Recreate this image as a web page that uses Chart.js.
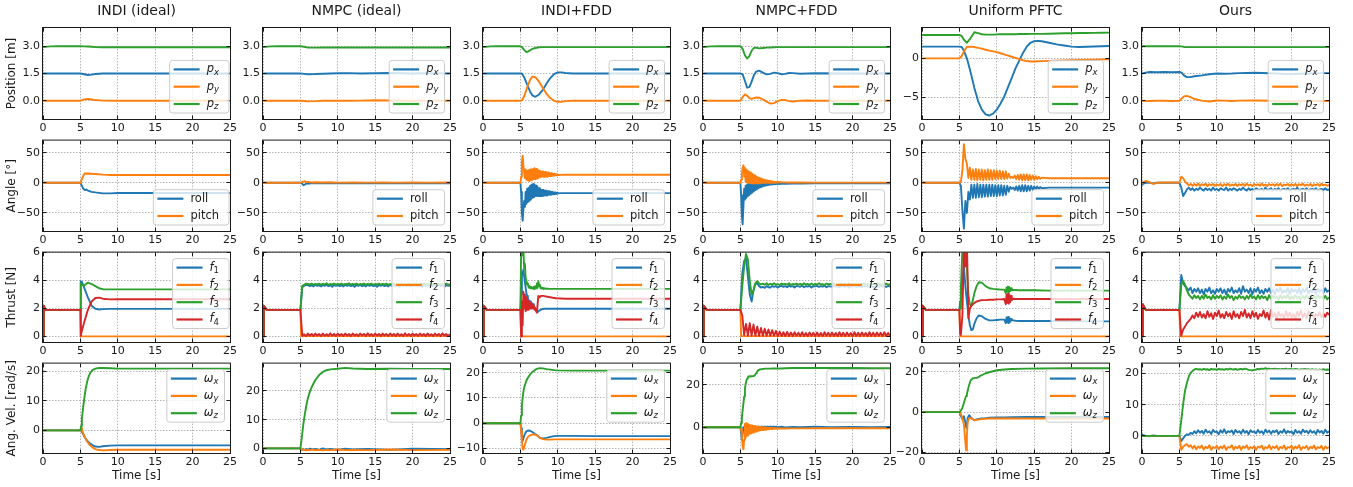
<!DOCTYPE html>
<html>
<head>
<meta charset="utf-8">
<title>Controller comparison after rotor failure</title>
<script src="https://cdn.jsdelivr.net/npm/chart.js@4.4.1/dist/chart.umd.min.js"></script>
<style>
  html, body { margin: 0; padding: 0; background: #ffffff; }
  #fig { position: relative; width: 1353px; height: 487px; overflow: hidden; background: #ffffff; }
  #fig canvas { position: absolute; }
</style>
</head>
<body>
<div id="fig"></div>
<script>
// ================= text =================
const methods = ['INDI (ideal)', 'NMPC (ideal)', 'INDI+FDD', 'NMPC+FDD', 'Uniform PFTC', 'Ours'];
const rowTitles = ['Position [m]', 'Angle [°]', 'Thrust [N]', 'Ang. Vel. [rad/s]'];
const xTitle = 'Time [s]';
const posNames = ['p_x', 'p_y', 'p_z'];
const angNames = ['roll', 'pitch'];
const thrNames = ['f_1', 'f_2', 'f_3', 'f_4'];
const avNames = ['ω_x', 'ω_y', 'ω_z'];

// ================= ticks / ranges =================
const xTicks = [0, 5, 10, 15, 20, 25];
const posTicks = [0, 1.5, 3.0];
const posTickLabels = ['0.0', '1.5', '3.0'];
const posRange = [-1, 4];
const ufPosTicks = [-5, 0];
const ufPosTickLabels = ['−5', '0'];
const ufPosRange = [-7.8, 3.9];
const angTicks = [-50, 0, 50];
const angTickLabels = ['−50', '0', '50'];
const angRange = [-80, 70];
const thrTicks = [0, 2, 4, 6];
const thrTickLabels = ['0', '2', '4', '6'];
const thrRange = [-0.4, 6];
const avTicksA = [0, 10, 20];
const avTickLabelsA = ['0', '10', '20'];
const avTicksC = [-10, 0, 10, 20];
const avTickLabelsC = ['−10', '0', '10', '20'];
const avTicksD = [0, 20];
const avTickLabelsD = ['0', '20'];
const avTicksE = [-20, 0, 20];
const avTickLabelsE = ['−20', '0', '20'];
const avRangeII = [-7.7, 22.7];
const avRangeNI = [-1.6, 29.5];
const avRangeIF = [-11.8, 23.6];
const avRangeNF = [-12.2, 30.1];
const avRangeUF = [-20.3, 24.1];
const avRangeOU = [-5.5, 23.2];

// ================= shared time grids [s] =================
const tN = [0, 0.1, 0.5, 1, 1.5, 2, 3, 4, 5,
  5.25, 5.5, 5.75, 6, 6.25, 6.5, 6.75, 7, 7.25, 7.5,
  7.75, 8, 8.25, 8.5, 8.75, 9, 9.25, 9.5, 9.75, 10,
  10.25, 10.5, 10.75, 11, 11.25, 11.5, 11.75, 12, 12.25, 12.5,
  12.75, 13, 13.25, 13.5, 13.75, 14, 14.25, 14.5, 14.75, 15,
  15.25, 15.5, 15.75, 16, 16.25, 16.5, 16.75, 17, 17.25, 17.5,
  17.75, 18, 18.25, 18.5, 18.75, 19, 19.25, 19.5, 19.75, 20,
  20.25, 20.5, 20.75, 21, 21.25, 21.5, 21.75, 22, 22.25, 22.5,
  22.75, 23, 23.25, 23.5, 23.75, 24, 24.25, 24.5, 24.75, 25];
const tB = [0, 0.1, 0.5,
  5.0, 5.1, 5.2, 5.3, 5.4, 5.5, 5.6, 5.7, 5.8, 5.9,
  6.0, 6.1, 6.2, 6.3, 6.4, 6.5, 6.6, 6.7, 6.8, 6.9,
  7.0, 7.1, 7.2, 7.3, 7.4, 7.5, 7.6, 7.7, 7.8, 7.9,
  8.0, 8.1, 8.2, 8.3, 8.4, 8.5, 8.6, 8.7, 8.8, 8.9,
  9.0, 9.1, 9.2, 9.3, 9.4, 9.5, 9.6, 9.7, 9.8, 9.9,
  10.0,
  10.5, 11, 12, 13, 15, 17, 20, 22.5, 25];
const tB2 = [0,
  5.0, 5.2, 5.4, 5.6, 5.8, 6.0, 6.2, 6.4, 6.6, 6.8,
  7.0, 7.2, 7.4, 7.6, 7.8, 8.0, 8.2, 8.4, 8.6, 8.8,
  9.0, 9.2, 9.4, 9.6, 9.8, 10.0, 10.2, 10.4, 10.6, 10.8,
  11.0, 11.2, 11.4, 11.6, 11.8, 12.0, 12.2, 12.4, 12.6, 12.8,
  13.0, 13.2, 13.4, 13.6, 13.8, 14.0, 14.2, 14.4, 14.6, 14.8,
  15.0, 15.2, 15.4, 15.6, 15.8, 16.0,
  17, 18, 20, 22, 25];
const tF2 = [0, 0.1, 0.5, 5, 5.1, 25];

// ================= INDI (ideal) =================
const ii_pos_t = [0, 1, 2, 4, 5, 5.5, 6, 6.5, 7, 8, 10, 15, 20, 25];
const ii_px = [1.5, 1.5, 1.5, 1.5, 1.5, 1.46, 1.42, 1.44, 1.47, 1.5, 1.5, 1.5, 1.5, 1.5];
const ii_py = [0, 0, 0, 0, 0, 0.08, 0.1, 0.07, 0.04, 0.01, 0, 0, 0, 0];
const ii_pz = [2.95, 2.99, 3.0, 3.0, 3.0, 2.99, 2.98, 2.97, 2.95, 2.94, 2.94, 2.94, 2.94, 2.94];
const ii_ang_t = [0, 5, 5.2, 5.4, 5.6, 5.8, 6, 6.5, 7, 8, 9, 10, 15, 20, 25];
const ii_roll = [0, 0, -5, -10, -12, -11, -13, -15, -16, -17.5, -17.5, -17, -17, -17, -17];
const ii_pitch = [0, 0, 6, 12, 16, 15, 15.5, 15, 14.5, 13.5, 13, 13, 13, 13, 13];
const ii_thr_t = [0, 0.1, 0.3, 1, 5, 5.05, 5.2, 5.5, 6, 6.5, 7, 7.5, 8, 9, 10, 15, 20, 25];
const ii_f1 = [0, 2.2, 1.9, 1.9, 1.9, 3.95, 3.9, 3.5, 2.8, 2.2, 1.98, 1.93, 1.95, 1.97, 1.97, 1.97, 1.97, 1.97];
const ii_f2 = [0, 2.2, 1.9, 1.9, 1.9, 0, 0, 0, 0, 0, 0, 0, 0, 0, 0, 0, 0, 0];
const ii_f3 = [0, 2.2, 1.9, 1.9, 1.9, 3.8, 3.7, 3.65, 3.85, 3.75, 3.6, 3.45, 3.38, 3.37, 3.37, 3.37, 3.37, 3.37];
const ii_f4 = [0, 2.2, 1.9, 1.9, 1.9, 0.05, 0.4, 1.0, 1.9, 2.5, 2.75, 2.78, 2.7, 2.65, 2.66, 2.66, 2.66, 2.66];
const ii_av_t = [0, 5, 5.1, 5.2, 5.35, 5.5, 5.7, 5.9, 6.1, 6.3, 6.6, 7, 7.5, 8, 9, 10, 15, 20, 25];
const ii_wx = [0, 0, 0.2, -0.5, -1.2, -2, -2.8, -3.5, -4.0, -4.5, -5.0, -5.5, -5.6, -5.4, -5.2, -5.1, -5.1, -5.1, -5.1];
const ii_wy = [0, 0, 0.8, 0.3, -0.8, -1.8, -2.9, -3.8, -4.5, -5.1, -5.8, -6.4, -6.7, -6.8, -6.7, -6.6, -6.6, -6.6, -6.6];
const ii_wz = [0, 0, 1.5, 4, 7.5, 10.5, 14, 16.5, 18.3, 19.5, 20.5, 21.0, 21.2, 21.2, 21.1, 21.0, 21.0, 21.0, 21.0];

// ================= NMPC (ideal) =================
const ni_pos_t = [0, 1, 2, 4, 5, 5.5, 6, 7, 8, 10, 11.5, 13, 15, 17, 20, 22, 25];
const ni_px = [1.5, 1.5, 1.5, 1.5, 1.5, 1.48, 1.46, 1.47, 1.49, 1.51, 1.52, 1.5, 1.51, 1.53, 1.5, 1.51, 1.5];
const ni_py = [0, 0, 0, 0, 0, -0.01, -0.03, -0.02, 0, 0.01, 0, 0.01, 0.03, 0.02, 0, 0.01, 0];
const ni_pz = [2.95, 2.99, 3.0, 3.0, 3.0, 2.97, 2.92, 2.92, 2.93, 2.93, 2.93, 2.93, 2.93, 2.93, 2.93, 2.93, 2.93];
const ni_ang_t = [0, 5, 5.2, 5.4, 5.6, 5.8, 6, 6.5, 7, 8, 9, 10, 12, 14, 16, 18, 20, 22, 25];
const ni_roll = [0, 0, -1, -4, -3, -1, -1.5, -0.5, -1, -0.5, -1, -0.8, -1, -0.8, -1, -0.8, -1, -0.8, -1];
const ni_pitch = [0, 0, 1, 2, 2.5, 1, 1.5, 0.5, 1, 0.5, 0.8, 0.3, 0.6, 0.3, 0.6, 0.3, 0.6, 0.3, 0.5];
const ni_f1 = [0, 2.2, 1.9, 1.9, 1.9, 1.9, 1.9, 1.9, 1.9,
  3.55, 3.62, 3.7, 3.68, 3.6, 3.66, 3.58, 3.7, 3.62, 3.66,
  3.58, 3.68, 3.62, 3.7, 3.6, 3.66, 3.56, 3.68, 3.62, 3.7,
  3.6, 3.66, 3.58, 3.7, 3.62, 3.68, 3.6, 3.66, 3.56, 3.68,
  3.62, 3.7, 3.6, 3.66, 3.58, 3.7, 3.62, 3.68, 3.6, 3.66,
  3.56, 3.68, 3.62, 3.7, 3.6, 3.66, 3.58, 3.7, 3.62, 3.68,
  3.6, 3.66, 3.56, 3.68, 3.62, 3.7, 3.6, 3.66, 3.58, 3.7,
  3.62, 3.68, 3.6, 3.66, 3.56, 3.68, 3.62, 3.7, 3.6, 3.66,
  3.58, 3.7, 3.62, 3.68, 3.6, 3.66, 3.56, 3.68, 3.62, 3.64];
const ni_f2 = [0, 2.2, 1.9, 1.9, 0.02, 0.02];
const ni_f3 = [0, 2.2, 1.9, 1.9, 1.9, 1.9, 1.9, 1.9, 1.9,
  3.6, 3.7, 3.78, 3.75, 3.72, 3.78, 3.7, 3.76, 3.72, 3.78,
  3.7, 3.76, 3.72, 3.8, 3.7, 3.75, 3.72, 3.78, 3.7, 3.76,
  3.72, 3.78, 3.7, 3.76, 3.74, 3.8, 3.7, 3.76, 3.72, 3.78,
  3.7, 3.75, 3.72, 3.78, 3.7, 3.76, 3.72, 3.78, 3.7, 3.75,
  3.72, 3.78, 3.7, 3.76, 3.72, 3.78, 3.7, 3.75, 3.72, 3.78,
  3.7, 3.76, 3.72, 3.78, 3.7, 3.75, 3.72, 3.78, 3.7, 3.76,
  3.72, 3.78, 3.7, 3.75, 3.72, 3.78, 3.7, 3.76, 3.72, 3.78,
  3.7, 3.75, 3.72, 3.78, 3.7, 3.76, 3.72, 3.78, 3.7, 3.74];
const ni_f4 = [0, 2.2, 1.9, 1.9, 1.9, 1.9, 1.9, 1.9, 1.9,
  0.05, 0.15, 0.02, 0.2, 0.05, 0.18, 0.03, 0.2, 0.06, 0.17,
  0.02, 0.2, 0.05, 0.16, 0.03, 0.22, 0.05, 0.18, 0.02, 0.2,
  0.06, 0.17, 0.03, 0.2, 0.05, 0.18, 0.02, 0.21, 0.05, 0.16,
  0.03, 0.2, 0.06, 0.18, 0.02, 0.22, 0.05, 0.17, 0.03, 0.2,
  0.05, 0.18, 0.02, 0.2, 0.06, 0.17, 0.03, 0.21, 0.05, 0.18,
  0.02, 0.2, 0.05, 0.16, 0.03, 0.22, 0.05, 0.18, 0.02, 0.2,
  0.06, 0.17, 0.03, 0.2, 0.05, 0.18, 0.02, 0.21, 0.05, 0.16,
  0.03, 0.2, 0.06, 0.18, 0.02, 0.22, 0.05, 0.17, 0.03, 0.15];
const ni_av_t = [0, 5, 5.2, 5.4, 5.6, 5.8, 6, 6.3, 6.6, 7, 7.5, 8, 8.5, 9, 10, 11, 12, 14, 17, 20, 25];
const ni_wx = [0, 0, -0.5, -0.3, -0.6, -0.2, -0.5, -0.1, -0.4, -0.2, -0.5, 0, -0.4, -0.2, -0.5, -0.1, -0.4, -0.2, -0.5, -0.1, -0.3];
const ni_wy = [0, 0, -0.3, -0.6, -0.4, -0.7, -0.5, -0.6, -0.4, -0.6, -0.5, -0.7, -0.5, -0.6, -0.4, -0.6, -0.5, -0.6, -0.4, -0.6, -0.5];
const ni_wz = [0, 0, 4, 8.5, 12, 15, 17.5, 20, 21.8, 23.8, 25.5, 26.6, 27.2, 27.5, 27.7, 28.0, 27.8, 27.6, 27.7, 27.6, 27.6];

// ================= INDI+FDD =================
const if_pos_t = [0, 1, 2, 5, 5.2, 5.5, 5.8, 6, 6.3, 6.6, 7, 7.5, 8, 8.5, 9, 9.5, 10, 10.5, 11, 12, 15, 20, 25];
const if_px = [1.5, 1.5, 1.5, 1.5, 1.5, 1.3, 1.0, 0.8, 0.5, 0.3, 0.22, 0.35, 0.6, 0.95, 1.25, 1.47, 1.56, 1.56, 1.53, 1.5, 1.5, 1.5, 1.5];
const if_py = [0, 0, 0, 0, 0.02, 0.25, 0.6, 0.85, 1.15, 1.33, 1.3, 1.05, 0.7, 0.38, 0.15, 0.0, -0.06, -0.05, -0.02, 0, 0, 0, 0];
const if_pz = [2.95, 2.99, 3.0, 3.0, 2.95, 2.8, 2.68, 2.7, 2.78, 2.85, 2.9, 2.94, 2.95, 2.95, 2.95, 2.95, 2.95, 2.95, 2.95, 2.95, 2.95, 2.95, 2.95];
const if_roll = [0, 0, 0,
  0, -15, -50, -63, -45, -30, -40, -15, -35, -10,
  -32, -8, -30, -5, -28, -3, -25, -2, -24, -3,
  -22, -5, -22, -7, -22, -9, -22, -11, -22, -12,
  -22, -12, -21, -13, -21, -13, -21, -14, -20, -14,
  -20, -15, -19.5, -15, -19, -16, -19, -16, -18.5, -16.5,
  -17.5,
  -17.2, -17.2, -17.2, -17.2, -17.2, -17.2, -17.2, -17.2, -17.2];
const if_pitch = [0, 0, 0,
  0, 10, 35, 45, 30, 18, 8, 22, 5, 20,
  4, 21, 3, 22, 4, 22, 5, 23, 6, 24,
  6, 23, 7, 22, 8, 20, 9, 19, 10, 19,
  10, 18, 10, 18, 10, 17, 10, 17, 11, 16,
  11, 16, 11, 15, 12, 15, 12, 14.5, 12.5, 14,
  13,
  13.2, 13.3, 13.3, 13.3, 13.3, 13.3, 13.3, 13.3, 13.3];
const if_f1 = [0, 2.2, 1.9,
  1.9, 3.0, 4.6, 4.4, 4.8, 4.3, 3.9, 3.5, 3.1, 2.9,
  2.7, 2.6, 2.55, 2.5, 2.45, 2.4, 2.35, 2.3, 2.25, 2.1,
  2.0, 1.9, 1.8, 1.75, 1.8, 1.85, 1.88, 1.9, 1.92, 1.95,
  1.97, 1.98, 1.98, 1.98, 1.98, 1.98, 1.98, 1.98, 1.98, 1.98,
  1.98, 1.98, 1.98, 1.98, 1.98, 1.98, 1.98, 1.98, 1.98, 1.98,
  1.98,
  1.98, 1.98, 1.98, 1.98, 1.98, 1.98, 1.98, 1.98, 1.98];
const if_f2 = [0, 2.2, 1.9, 1.9, 0, 0];
const if_f3 = [0, 2.2, 1.9,
  1.9, 6.2, 6.5, 5.8, 6.2, 4.9, 5.2, 4.2, 4.0, 3.7,
  3.8, 3.5, 3.6, 3.45, 3.55, 3.45, 3.5, 3.4, 3.55, 3.4,
  3.6, 3.45, 3.8, 3.5, 3.95, 3.6, 3.7, 3.45, 3.5, 3.42,
  3.48, 3.4, 3.45, 3.4, 3.43, 3.4, 3.42, 3.4, 3.41, 3.4,
  3.4, 3.4, 3.4, 3.4, 3.4, 3.4, 3.4, 3.4, 3.4, 3.4,
  3.4,
  3.4, 3.4, 3.4, 3.4, 3.4, 3.4, 3.4, 3.4, 3.4];
const if_f4 = [0, 2.2, 1.9,
  1.9, 0, 2.5, 0.8, 3.2, 2.0, 3.0, 1.8, 2.8, 1.9,
  2.6, 1.9, 2.5, 2.0, 2.4, 2.0, 2.3, 2.0, 2.2, 1.9,
  2.0, 1.8, 1.7, 2.3, 2.9, 2.8, 2.85, 2.88, 2.9, 2.9,
  2.9, 2.9, 2.88, 2.87, 2.86, 2.85, 2.84, 2.83, 2.82, 2.81,
  2.8, 2.79, 2.78, 2.77, 2.76, 2.75, 2.74, 2.73, 2.73, 2.72,
  2.72,
  2.71, 2.7, 2.7, 2.7, 2.7, 2.7, 2.7, 2.7, 2.7];
const if_av_t = [0, 5, 5.1, 5.2, 5.3, 5.4, 5.5, 5.65, 5.8, 6, 6.3, 6.6, 7, 7.3, 7.6, 8, 8.5, 9, 9.5, 10, 12, 15, 20, 25];
const if_wx = [0, 0, -2, -5, -7, -6, -5, -4, -3.2, -2.9, -3, -3.5, -4.3, -5, -5.8, -6.0, -5.8, -5.4, -5.1, -5.0, -5.0, -5.1, -5.1, -5.1];
const if_wy = [0, 0, -3, -7, -10, -10.5, -9.5, -8, -6.5, -5.5, -4.8, -4.5, -4.5, -5, -5.8, -6.3, -6.5, -6.5, -6.4, -6.4, -6.4, -6.4, -6.4, -6.4];
const if_wz = [0, 0, 3, 7, 10, 12.5, 14, 15.5, 16.8, 18, 19.3, 20.3, 21.2, 21.6, 21.8, 21.7, 21.4, 21.2, 21.0, 20.9, 20.8, 20.8, 20.8, 20.8];

// ================= NMPC+FDD =================
const nf_pos_t = [0, 1, 2, 5, 5.3, 5.6, 5.9, 6.2, 6.5, 6.8, 7.1, 7.5, 8, 8.5, 9, 9.5, 10, 10.5, 11, 11.5, 12, 13, 14, 15, 20, 25];
const nf_px = [1.5, 1.5, 1.5, 1.5, 1.45, 1.1, 0.72, 0.75, 1.05, 1.4, 1.6, 1.66, 1.55, 1.45, 1.48, 1.55, 1.52, 1.46, 1.48, 1.53, 1.52, 1.49, 1.5, 1.51, 1.5, 1.5];
const nf_py = [0, 0, 0, 0, 0.2, 0.35, 0.28, 0.15, 0.1, 0.15, 0.18, 0.17, 0.08, -0.05, -0.15, -0.13, -0.02, 0.05, 0.04, -0.02, -0.04, 0.0, 0.02, 0, 0, 0];
const nf_pz = [2.95, 2.99, 3.0, 3.0, 2.85, 2.5, 2.33, 2.45, 2.75, 2.9, 2.92, 2.88, 2.9, 2.92, 2.93, 2.94, 2.95, 2.95, 2.95, 2.95, 2.95, 2.95, 2.95, 2.95, 2.95, 2.95];
const nf_roll = [0, 0, 0,
  0, -20, -55, -69, -40, -10, -28, -5, -25, -3,
  -22, -2, -20, -2, -18, -1, -16, -1, -14, -1,
  -12, -1, -11, -1, -9, -1, -8, -1, -7, -1,
  -6, -1, -5, -1, -4.5, -1, -4, -1, -3.5, -1,
  -3, -1, -3, -1, -2.5, -1, -2.5, -1, -2, -1,
  -2,
  -1.5, -1.5, -1.2, -1.3, -1, -1, -1, -1, -1];
const nf_pitch = [0, 0, 0,
  0, 5, 15, 25, 29, 10, 25, 2, 22, 0,
  20, 0, 18, 0, 17, -1, 15, -1, 13, -1,
  12, -1, 10, -1, 9, -1, 8, 0, 7, 0,
  6, 0, 5, 0, 4.5, 0, 4, 0, 3.5, 0,
  3, 0, 2.5, 0, 2, 0, 2, 0.2, 1.5, 0.3,
  1.2,
  0.8, 0.6, 0.5, 0.4, 0.3, 0.3, 0.3, 0.3, 0.3];
const nf_f1 = [0, 2.2, 1.9, 1.9, 1.9, 1.9, 1.9, 1.9, 1.9,
  4.5, 5.4, 5.6, 4.3, 3.0, 2.5, 3.3, 3.75, 3.8, 3.6,
  3.5, 3.55, 3.48, 3.6, 3.52, 3.5, 3.62, 3.55, 3.6, 3.5,
  3.58, 3.62, 3.55, 3.6, 3.52, 3.63, 3.56, 3.6, 3.5, 3.62,
  3.58, 3.55, 3.64, 3.52, 3.6, 3.57, 3.63, 3.5, 3.6, 3.58,
  3.62, 3.54, 3.6, 3.56, 3.64, 3.52, 3.6, 3.58, 3.55, 3.63,
  3.57, 3.6, 3.52, 3.62, 3.58, 3.55, 3.63, 3.5, 3.6, 3.57,
  3.62, 3.55, 3.6, 3.58, 3.52, 3.63, 3.57, 3.6, 3.55, 3.62,
  3.52, 3.6, 3.58, 3.55, 3.63, 3.57, 3.6, 3.54, 3.62, 3.57];
const nf_f2 = [0, 2.2, 1.9, 1.9, 0.02, 0.02];
const nf_f3 = [0, 2.2, 1.9, 1.9, 1.9, 1.9, 1.9, 1.9, 1.9,
  3.6, 5.0, 5.9, 5.5, 4.0, 3.0, 3.3, 3.8, 3.95, 3.8,
  3.72, 3.78, 3.7, 3.8, 3.68, 3.76, 3.72, 3.8, 3.7, 3.75,
  3.68, 3.78, 3.72, 3.76, 3.7, 3.8, 3.68, 3.75, 3.72, 3.78,
  3.7, 3.76, 3.68, 3.8, 3.72, 3.75, 3.7, 3.78, 3.68, 3.76,
  3.72, 3.8, 3.7, 3.75, 3.68, 3.78, 3.72, 3.76, 3.7, 3.8,
  3.68, 3.75, 3.72, 3.78, 3.7, 3.76, 3.68, 3.8, 3.72, 3.75,
  3.7, 3.78, 3.68, 3.76, 3.72, 3.8, 3.7, 3.75, 3.68, 3.78,
  3.72, 3.76, 3.7, 3.8, 3.68, 3.75, 3.72, 3.78, 3.7, 3.74];
const nf_f4 = [0, 2.2, 1.9, 1.9, 1.9, 1.9, 1.9, 1.9, 1.9,
  1.5, 0.1, 0.9, 0.05, 0.95, 0.05, 0.85, 0.05, 0.7, 0.05,
  0.6, 0.05, 0.55, 0.05, 0.5, 0.05, 0.45, 0.05, 0.4, 0.02,
  0.35, 0.03, 0.3, 0.02, 0.32, 0.03, 0.28, 0.02, 0.3, 0.04,
  0.27, 0.02, 0.3, 0.03, 0.25, 0.02, 0.28, 0.04, 0.26, 0.02,
  0.28, 0.03, 0.25, 0.02, 0.3, 0.04, 0.26, 0.02, 0.28, 0.03,
  0.25, 0.02, 0.3, 0.03, 0.27, 0.02, 0.28, 0.04, 0.25, 0.02,
  0.3, 0.03, 0.26, 0.02, 0.28, 0.04, 0.25, 0.02, 0.3, 0.03,
  0.27, 0.02, 0.28, 0.04, 0.26, 0.02, 0.3, 0.03, 0.25, 0.05];
const nf_wx = [0, 0, 0,
  0, -3, -6, -3, 0, -1, 0.5, -0.5, 0.5, -0.3,
  0.3, -0.3, 0.3, -0.3, 0.3, -0.3, 0.3, -0.3, 0.3, -0.3,
  0.3, -0.3, 0.3, -0.3, 0.3, -0.3, 0.3, -0.3, 0.3, -0.3,
  0.3, -0.3, 0.3, -0.3, 0.3, -0.3, 0.3, -0.3, 0.3, -0.3,
  0.3, -0.3, 0.3, -0.3, 0.3, -0.3, 0.3, -0.3, 0.3, -0.3,
  0,
  0.2, -0.1, 0.1, 0, 0.2, 0, 0.1, 0, 0.1];
const nf_wy = [0, 0, 0,
  0, -1, -4, -9, -10.5, -6, 1.5, -5, 2, -4,
  1.5, -3.5, 1.2, -3, 1, -2.8, 0.8, -2.5, 0.6, -2.3,
  0.5, -2, 0.4, -1.8, 0.3, -1.6, 0.2, -1.5, 0.1, -1.4,
  0, -1.3, 0, -1.2, -0.1, -1.1, -0.2, -1, -0.2, -0.9,
  -0.3, -0.9, -0.3, -0.8, -0.4, -0.8, -0.4, -0.7, -0.5, -0.7,
  -0.5,
  -0.6, -0.6, -0.55, -0.55, -0.5, -0.5, -0.5, -0.5, -0.5];
const nf_wz = [0, 0, 0,
  0, 2, 4.5, 8, 11, 14.5, 18, 20.5, 22, 23,
  23.6, 24, 24.1, 24, 24.1, 24.2, 24.1, 24.2, 24.3, 24.5,
  25, 25.6, 26.1, 26.6, 27, 27.2, 27.3, 27.4, 27.5, 27.5,
  27.6, 27.6, 27.6, 27.7, 27.7, 27.7, 27.7, 27.7, 27.7, 27.7,
  27.7, 27.7, 27.8, 27.8, 27.8, 27.8, 27.8, 27.8, 27.8, 27.8,
  27.8,
  27.8, 27.9, 28, 28, 28.1, 28, 28, 27.9, 27.9];

// ================= Uniform PFTC =================
const uf_pos_t = [0, 2, 5, 5.3, 5.6, 6, 6.5, 7, 7.5, 8, 8.5, 9, 9.5, 10, 10.5, 11, 11.5, 12, 12.5, 13, 13.5, 14, 14.5, 15, 15.5, 16, 17, 18, 19, 20, 21, 22, 23, 24, 25];
const uf_px = [1.5, 1.5, 1.5, 1.45, 1.0, 0.0, -1.8, -3.8, -5.5, -6.6, -7.2, -7.35, -7.1, -6.6, -5.8, -4.9, -3.7, -2.5, -1.3, -0.3, 0.7, 1.5, 2.0, 2.2, 2.25, 2.2, 2.0, 1.8, 1.65, 1.5, 1.45, 1.48, 1.52, 1.55, 1.58];
const uf_py = [0, 0, 0, 0.3, 0.9, 1.45, 1.5, 1.45, 1.35, 1.25, 1.1, 1.0, 0.9, 0.8, 0.65, 0.5, 0.35, 0.2, 0.05, -0.1, -0.25, -0.35, -0.4, -0.4, -0.38, -0.36, -0.33, -0.3, -0.27, -0.24, -0.2, -0.18, -0.16, -0.14, -0.13];
const uf_pz = [3.0, 3.0, 3.0, 2.9, 2.4, 2.0, 2.6, 3.35, 3.25, 3.1, 3.05, 3.05, 3.05, 3.08, 3.1, 3.1, 3.1, 3.1, 3.1, 3.12, 3.12, 3.12, 3.14, 3.15, 3.15, 3.15, 3.17, 3.2, 3.22, 3.23, 3.25, 3.25, 3.27, 3.28, 3.3];
const uf_roll = [0,
  0, -5, -45, -76, -30, -50, -15, -28, -3, -25,
  -3, -25, -2, -24, -3, -24, -3, -23, -3, -23,
  -3, -22, -3, -22, -4, -22, -4, -21, -4, -21,
  -5, -20, -5, -15, -7, -10, -8, -12, -6, -13,
  -5, -14, -4, -14, -4, -14, -5, -13, -5, -12,
  -6, -11, -6, -10, -7, -9,
  -8, -8, -8, -8, -8];
const uf_pitch = [0,
  0, 2, 20, 64, 40, 32, 8, 25, 5, 22,
  5, 23, 4, 22, 5, 22, 4, 21, 5, 22,
  5, 21, 5, 21, 6, 20, 6, 20, 6, 19,
  6, 19, 7, 15, 8, 10, 8, 12, 6, 13,
  5, 14, 4, 14, 4, 14, 4, 13, 5, 12,
  5, 11, 6, 10, 6.5, 8.5,
  7.5, 7.5, 7.5, 7.5, 7.5];
const uf_thr_t = [0, 0.1, 0.5, 5, 5.1, 5.2, 5.4, 5.6, 5.8, 6.0, 6.2, 6.4, 6.6, 6.8, 7.0, 7.3, 7.6, 8.0, 8.5, 9.0, 9.5, 10, 10.5, 11, 11.2, 11.3, 11.4, 11.5, 11.6, 11.7, 11.8, 11.9, 12.0, 12.2, 12.5, 13, 14, 15, 17, 20, 25];
const uf_f1 = [0, 2.2, 1.9, 1.9, 2.5, 3.0, 4.0, 5.0, 3.6, 2.5, 1.5, 0.8, 0.45, 0.5, 0.9, 1.3, 1.5, 1.45, 1.25, 1.15, 1.15, 1.18, 1.2, 1.2, 0.95, 1.35, 1.0, 1.4, 0.95, 1.3, 1.05, 1.25, 1.15, 1.15, 1.12, 1.1, 1.1, 1.1, 1.1, 1.08, 1.08];
const uf_f2 = [0, 2.2, 1.9, 1.9, 0, 0];
const uf_f3 = [0, 2.2, 1.9, 1.9, 2.0, 3.5, 6.2, 6.5, 6.5, 5.0, 3.0, 2.3, 2.2, 2.6, 3.1, 3.6, 3.88, 3.85, 3.6, 3.45, 3.4, 3.38, 3.35, 3.35, 3.1, 3.5, 3.2, 3.55, 3.15, 3.5, 3.25, 3.45, 3.3, 3.32, 3.32, 3.3, 3.3, 3.3, 3.28, 3.28, 3.28];
const uf_f4 = [0, 2.2, 1.9, 1.9, 0.2, 0.1, 1.5, 6.5, 5.0, 7.0, 1.3, 2.0, 2.2, 2.3, 2.4, 2.5, 2.55, 2.6, 2.6, 2.62, 2.62, 2.65, 2.65, 2.68, 2.3, 3.0, 2.4, 3.05, 2.35, 2.95, 2.45, 2.9, 2.6, 2.7, 2.68, 2.68, 2.68, 2.68, 2.68, 2.68, 2.68];
const uf_av_t = [0, 5, 5.2, 5.4, 5.6, 5.8, 5.9, 6.0, 6.1, 6.3, 6.5, 6.8, 7.0, 7.4, 7.8, 8.5, 9, 10, 11, 12, 14, 16, 20, 25];
const uf_wx = [0, 0, -2, -3.5, -2, -5, -7.5, -8, -3, -1.5, -2.5, -3.5, -4, -3.5, -3.2, -3, -2.8, -2.7, -2.6, -2.5, -2.4, -2.4, -2.4, -2.4];
const uf_wy = [0, 0, -1, -3, -6, -15, -19, -12, -5, -3, -3, -3.5, -4, -3.8, -3.5, -3.3, -3.2, -3.2, -3.2, -3.2, -3.2, -3.2, -3.2, -3.2];
const uf_wz = [0, 0, 0.8, 2, 4.5, 7, 8, 9, 10.5, 13.5, 15.7, 16.8, 17, 17.1, 18, 19.3, 19.8, 20.8, 21.2, 21.4, 21.6, 21.7, 21.8, 21.8];

// ================= Ours =================
const ou_pos_t = [0, 0.5, 1, 2, 3, 4, 5, 5.3, 5.6, 6, 6.5, 7, 8, 9, 10, 11, 12, 13, 15, 17, 19, 20, 22, 24, 25];
const ou_px = [1.5, 1.55, 1.58, 1.57, 1.58, 1.57, 1.58, 1.55, 1.4, 1.3, 1.3, 1.35, 1.4, 1.46, 1.5, 1.49, 1.5, 1.52, 1.54, 1.51, 1.48, 1.47, 1.5, 1.52, 1.52];
const ou_py = [0, -0.02, -0.01, 0, 0, -0.01, 0, 0.12, 0.24, 0.27, 0.2, 0.1, 0.01, -0.04, 0.02, 0.01, -0.01, 0.01, 0.02, 0, -0.02, -0.03, -0.01, 0, -0.02];
const ou_pz = [3.0, 3.0, 3.0, 3.0, 3.0, 3.0, 3.0, 2.99, 2.96, 2.95, 2.95, 2.95, 2.95, 2.95, 2.95, 2.95, 2.95, 2.95, 2.95, 2.95, 2.95, 2.95, 2.95, 2.95, 2.95];
const ou_roll = [-3, -2, 0, 0, -1, 0, 0, 0, 0,
  -8, -22, -17, -11, -8, -12, -9, -13, -10, -12,
  -8, -11, -13, -9, -12, -10, -13, -8, -12, -10,
  -13, -9, -11, -12, -8, -13, -10, -12, -9, -11,
  -13, -10, -12, -8, -11, -13, -9, -12, -10, -13,
  -9, -11, -12, -10, -13, -8, -12, -11, -9, -13,
  -10, -12, -9, -13, -11, -10, -12, -9, -13, -11,
  -10, -12, -8, -13, -11, -10, -12, -9, -13, -11,
  -10, -12, -9, -13, -11, -10, -12, -9, -12, -11];
const ou_pitch = [0, 0.5, 3, 1, -2, 0, 0.5, 0.5, 0.5,
  10, 8, 2, -1, -4, -2, -5, -2, -4.5, -1.5,
  -5, -2.5, -4, -1.5, -5.5, -2.5, -4, -2, -5, -3,
  -4.5, -2, -5.5, -2.5, -4, -1.5, -5, -3, -4.5, -2,
  -5.5, -2.5, -4, -2, -5, -1.5, -4.5, -3, -5.5, -2,
  -4, -2.5, -5, -1.5, -4.5, -3, -5.5, -2, -4, -2.5,
  -5, -2, -4.5, -1.5, -5.5, -3, -4, -2, -5, -2.5,
  -4.5, -2, -5.5, -2.5, -4, -1.5, -5, -3, -4.5, -2,
  -5.5, -2.5, -4, -2, -5, -1.5, -4.5, -3, -5, -3.5];
const ou_f1 = [0, 2.3, 1.9, 1.88, 1.9, 1.88, 1.9, 1.88, 1.9,
  4.4, 3.8, 3.6, 3.45, 3.3, 3.5, 3.1, 3.4, 3.2, 3.45,
  3.1, 3.35, 3.0, 3.4, 3.2, 3.5, 3.1, 3.3, 3.05, 3.4,
  3.2, 3.45, 3.1, 3.35, 3.0, 3.4, 3.2, 3.5, 3.1, 3.3,
  3.15, 3.45, 3.05, 3.6, 3.2, 3.35, 3.1, 3.45, 3.0, 3.4,
  3.2, 3.5, 3.1, 3.3, 3.05, 3.4, 3.2, 3.45, 3.1, 3.35,
  3.0, 3.4, 3.2, 3.5, 3.1, 3.3, 3.15, 3.45, 3.05, 3.4,
  3.2, 3.35, 3.1, 3.45, 3.0, 3.4, 3.2, 3.5, 3.1, 3.3,
  3.15, 3.45, 3.05, 3.4, 3.2, 3.35, 3.1, 3.45, 3.2, 3.3];
const ou_f2 = [0, 2.2, 1.9, 1.9, 0, 0];
const ou_f3 = [0, 2.3, 1.9, 1.88, 1.9, 1.88, 1.9, 1.88, 1.9,
  3.7, 3.95, 3.7, 3.3, 3.0, 2.85, 2.7, 2.95, 2.75, 2.9,
  2.65, 2.9, 2.7, 3.0, 2.75, 2.85, 2.65, 2.95, 2.7, 2.9,
  2.75, 2.95, 2.65, 2.85, 2.7, 3.0, 2.75, 2.9, 2.6, 2.85,
  2.7, 2.95, 2.75, 2.85, 2.65, 2.9, 2.7, 3.0, 2.75, 2.85,
  2.65, 2.95, 2.7, 2.9, 2.75, 2.85, 2.6, 2.95, 2.7, 2.9,
  2.75, 2.85, 2.65, 2.95, 2.7, 2.9, 2.75, 3.0, 2.65, 2.85,
  2.7, 2.95, 2.75, 2.85, 2.65, 2.9, 2.7, 2.95, 2.75, 2.85,
  2.65, 2.9, 2.7, 2.95, 2.75, 2.85, 2.7, 2.9, 2.65, 2.8];
const ou_f4 = [0, 2.3, 1.9, 1.88, 1.9, 1.88, 1.9, 1.88, 1.9,
  0.05, 0.5, 0.7, 0.95, 1.1, 1.25, 1.5, 1.3, 1.7, 1.4,
  1.75, 1.35, 1.6, 1.3, 1.8, 1.4, 1.65, 1.25, 1.7, 1.45,
  1.85, 1.35, 1.6, 1.3, 1.75, 1.45, 1.65, 1.25, 1.8, 1.4,
  1.6, 1.3, 1.75, 1.45, 1.9, 1.35, 1.65, 1.3, 1.8, 1.4,
  1.7, 1.25, 1.6, 1.45, 1.85, 1.35, 1.7, 1.2, 1.9, 1.4,
  1.65, 1.3, 1.75, 1.45, 1.6, 1.3, 1.8, 1.4, 1.7, 1.35,
  1.6, 1.25, 1.75, 1.45, 1.85, 1.35, 1.65, 1.3, 1.8, 1.4,
  1.7, 1.3, 1.6, 1.45, 1.75, 1.35, 1.65, 1.4, 1.7, 1.55];
const ou_wx = [0.3, 0.2, 0, -0.1, 0.1, 0, 0, 0, 0,
  -1.6, -0.8, 0, 0.5, 0.3, 1.0, 0.6, 1.5, 0.8, 1.8,
  1.0, 1.6, 0.7, 2.0, 1.1, 1.5, 0.6, 1.9, 1.2, 1.4,
  0.5, 1.8, 1.0, 2.1, 0.8, 1.5, 1.2, 1.7, 0.6, 1.9,
  1.1, 1.5, 0.7, 2.0, 1.0, 1.6, 0.5, 1.8, 1.2, 1.4,
  0.8, 1.9, 1.0, 1.5, 0.6, 2.0, 1.1, 1.7, 0.7, 1.6,
  1.2, 1.8, 0.6, 1.5, 1.0, 2.1, 0.8, 1.6, 1.1, 1.4,
  0.5, 1.9, 1.0, 1.5, 0.7, 2.0, 1.2, 1.6, 0.8, 1.8,
  1.0, 1.5, 0.6, 1.9, 1.1, 1.6, 0.7, 2.0, 1.0, 1.5];
const ou_wy = [0, 0, 0, 0, 0, 0, 0, 0, 0,
  -4.5, -3.5, -3.0, -2.6, -3.5, -3.0, -4.0, -3.2, -4.3, -3.4,
  -3.9, -3.1, -4.4, -3.5, -4.0, -3.0, -4.5, -3.6, -3.9, -3.2,
  -4.3, -3.4, -4.0, -3.1, -4.5, -3.6, -3.8, -3.0, -4.4, -3.5,
  -4.0, -3.2, -4.5, -3.4, -3.9, -3.0, -4.3, -3.6, -4.0, -3.3,
  -4.5, -3.5, -3.8, -3.1, -4.4, -3.6, -4.0, -3.0, -4.3, -3.4,
  -3.9, -3.2, -4.5, -3.5, -4.0, -3.1, -4.4, -3.6, -3.8, -3.2,
  -4.3, -3.4, -4.0, -3.0, -4.5, -3.6, -3.9, -3.2, -4.4, -3.5,
  -4.0, -3.1, -4.3, -3.6, -3.9, -3.2, -4.5, -3.4, -4.0, -3.6];
const ou_wz = [0, 0, 0, 0, 0, 0, 0, 0, 0,
  5, 10.2, 14.5, 17, 19, 20.2, 20.8, 21.3, 21.5, 21.3,
  21.4, 21.2, 21.5, 21.3, 21.4, 21.1, 21.5, 21.3, 21.4, 21.2,
  21.5, 21.3, 21.4, 21.2, 21.5, 21.3, 21.6, 21.4, 21.3, 21.5,
  21.2, 21.4, 21.5, 21.3, 21.6, 21.4, 21.2, 21.1, 21.0, 21.2,
  21.3, 21.5, 21.4, 21.6, 21.5, 21.7, 21.5, 21.6, 21.4, 21.5,
  21.6, 21.4, 21.5, 21.3, 21.5, 21.4, 21.6, 21.3, 21.5, 21.4,
  21.3, 21.5, 21.4, 21.2, 21.4, 21.3, 21.5, 21.3, 21.4, 21.2,
  21.4, 21.2, 21.3, 21.1, 21.3, 21.2, 21.4, 21.2, 21.3, 21.2];

// ================= subplot table (built from the arrays above) =================
const grid = [
  [ // Position
    {s: [[ii_pos_t, ii_px], [ii_pos_t, ii_py], [ii_pos_t, ii_pz]], range: posRange, ticks: posTicks, labels: posTickLabels},
    {s: [[ni_pos_t, ni_px], [ni_pos_t, ni_py], [ni_pos_t, ni_pz]], range: posRange, ticks: posTicks, labels: posTickLabels},
    {s: [[if_pos_t, if_px], [if_pos_t, if_py], [if_pos_t, if_pz]], range: posRange, ticks: posTicks, labels: posTickLabels},
    {s: [[nf_pos_t, nf_px], [nf_pos_t, nf_py], [nf_pos_t, nf_pz]], range: posRange, ticks: posTicks, labels: posTickLabels},
    {s: [[uf_pos_t, uf_px], [uf_pos_t, uf_py], [uf_pos_t, uf_pz]], range: ufPosRange, ticks: ufPosTicks, labels: ufPosTickLabels},
    {s: [[ou_pos_t, ou_px], [ou_pos_t, ou_py], [ou_pos_t, ou_pz]], range: posRange, ticks: posTicks, labels: posTickLabels}
  ],
  [ // Angle
    {s: [[ii_ang_t, ii_roll], [ii_ang_t, ii_pitch]], range: angRange, ticks: angTicks, labels: angTickLabels},
    {s: [[ni_ang_t, ni_roll], [ni_ang_t, ni_pitch]], range: angRange, ticks: angTicks, labels: angTickLabels},
    {s: [[tB, if_roll], [tB, if_pitch]], range: angRange, ticks: angTicks, labels: angTickLabels},
    {s: [[tB, nf_roll], [tB, nf_pitch]], range: angRange, ticks: angTicks, labels: angTickLabels},
    {s: [[tB2, uf_roll], [tB2, uf_pitch]], range: angRange, ticks: angTicks, labels: angTickLabels},
    {s: [[tN, ou_roll], [tN, ou_pitch]], range: angRange, ticks: angTicks, labels: angTickLabels}
  ],
  [ // Thrust
    {s: [[ii_thr_t, ii_f1], [ii_thr_t, ii_f2], [ii_thr_t, ii_f3], [ii_thr_t, ii_f4]], range: thrRange, ticks: thrTicks, labels: thrTickLabels},
    {s: [[tN, ni_f1], [tF2, ni_f2], [tN, ni_f3], [tN, ni_f4]], range: thrRange, ticks: thrTicks, labels: thrTickLabels},
    {s: [[tB, if_f1], [tF2, if_f2], [tB, if_f3], [tB, if_f4]], range: thrRange, ticks: thrTicks, labels: thrTickLabels},
    {s: [[tN, nf_f1], [tF2, nf_f2], [tN, nf_f3], [tN, nf_f4]], range: thrRange, ticks: thrTicks, labels: thrTickLabels},
    {s: [[uf_thr_t, uf_f1], [tF2, uf_f2], [uf_thr_t, uf_f3], [uf_thr_t, uf_f4]], range: thrRange, ticks: thrTicks, labels: thrTickLabels},
    {s: [[tN, ou_f1], [tF2, ou_f2], [tN, ou_f3], [tN, ou_f4]], range: thrRange, ticks: thrTicks, labels: thrTickLabels}
  ],
  [ // Angular velocity
    {s: [[ii_av_t, ii_wx], [ii_av_t, ii_wy], [ii_av_t, ii_wz]], range: avRangeII, ticks: avTicksA, labels: avTickLabelsA},
    {s: [[ni_av_t, ni_wx], [ni_av_t, ni_wy], [ni_av_t, ni_wz]], range: avRangeNI, ticks: avTicksA, labels: avTickLabelsA},
    {s: [[if_av_t, if_wx], [if_av_t, if_wy], [if_av_t, if_wz]], range: avRangeIF, ticks: avTicksC, labels: avTickLabelsC},
    {s: [[tB, nf_wx], [tB, nf_wy], [tB, nf_wz]], range: avRangeNF, ticks: avTicksD, labels: avTickLabelsD},
    {s: [[uf_av_t, uf_wx], [uf_av_t, uf_wy], [uf_av_t, uf_wz]], range: avRangeUF, ticks: avTicksE, labels: avTickLabelsE},
    {s: [[tN, ou_wx], [tN, ou_wy], [tN, ou_wz]], range: avRangeOU, ticks: avTicksA, labels: avTickLabelsA}
  ]
];
const rowNames = [posNames, angNames, thrNames, avNames];

// ================= style / layout =================
const COLORS = ['#1f77b4', '#ff7f0e', '#2ca02c', '#d62728'];
const FONT = 'DejaVu Sans';
const INK = '#1a1a1a';
const GRID = '#b4b4b4';
const PL = [43, 263, 483, 703, 922, 1142];
const PT = [28, 139, 251, 362];
const PW = 187;
const PH = [91, 92, 91, 91];

function pts(t, v) {
  const n = Math.min(t.length, v.length);
  if (t.length !== v.length) console.warn('length mismatch', t.length, v.length);
  const out = [];
  for (let i = 0; i < n; i++) out.push({x: t[i], y: v[i]});
  return out;
}

function labelParts(label) {
  const k = label.indexOf('_');
  if (k < 0) return [{txt: label, it: false, sub: false}];
  const sub = label.slice(k + 1);
  return [{txt: label.slice(0, k), it: true, sub: false}, {txt: sub, it: /[a-z]/i.test(sub), sub: true}];
}

function drawLegend(chart, cfg) {
  const {ctx, chartArea: a} = chart;
  const fs = 11.5, sfs = 8.5;
  const font = p => (p.it ? 'italic ' : '') + (p.sub ? sfs : fs) + 'px "' + FONT + '"';
  let maxW = 0;
  const rows = chart.data.datasets.map(d => {
    const ps = labelParts(d.label);
    let w = 0;
    ps.forEach(p => { ctx.font = font(p); p.w = ctx.measureText(p.txt).width; w += p.w; });
    maxW = Math.max(maxW, w);
    return {ps, color: d.borderColor};
  });
  const padL = 4, hl = 26, gap = 7, padR = 6 + (cfg.extra || 0), rowH = 17.3, vpad = 9;
  const bw = padL + hl + gap + maxW + padR;
  const bh = (rows.length - 1) * rowH + 2 * vpad;
  const right = a.right - cfg.mr;
  const left = right - bw;
  const top = cfg.loc === 'upper' ? a.top + 6 : a.bottom - 6 - bh;
  ctx.save();
  const rr = 3;
  ctx.beginPath();
  ctx.moveTo(left + rr, top);
  ctx.lineTo(left + bw - rr, top);
  ctx.arcTo(left + bw, top, left + bw, top + rr, rr);
  ctx.lineTo(left + bw, top + bh - rr);
  ctx.arcTo(left + bw, top + bh, left + bw - rr, top + bh, rr);
  ctx.lineTo(left + rr, top + bh);
  ctx.arcTo(left, top + bh, left, top + bh - rr, rr);
  ctx.lineTo(left, top + rr);
  ctx.arcTo(left, top, left + rr, top, rr);
  ctx.closePath();
  ctx.fillStyle = 'rgba(255,255,255,0.8)';
  ctx.fill();
  ctx.strokeStyle = '#cccccc';
  ctx.lineWidth = 1;
  ctx.stroke();
  rows.forEach((r, i) => {
    const y = top + vpad + i * rowH;
    ctx.strokeStyle = r.color;
    ctx.lineWidth = 2.2;
    ctx.beginPath();
    ctx.moveTo(left + padL, y);
    ctx.lineTo(left + padL + hl, y);
    ctx.stroke();
    let x = left + padL + hl + gap;
    ctx.fillStyle = INK;
    ctx.textAlign = 'left';
    ctx.textBaseline = 'middle';
    r.ps.forEach(p => {
      ctx.font = font(p);
      ctx.fillText(p.txt, x, p.sub ? y + 3 : y);
      x += p.w;
    });
  });
  ctx.restore();
}

const framePlugin = {
  id: 'mplFrame',
  afterDatasetsDraw(chart, args, opts) {
    const {ctx, chartArea: a, scales: {x, y}} = chart;
    ctx.save();
    ctx.strokeStyle = INK;
    ctx.lineWidth = 1;
    const L = 3.5;
    ctx.beginPath();
    x.ticks.forEach(tk => {
      const p = Math.round(x.getPixelForValue(tk.value) - 0.5) + 0.5;
      ctx.moveTo(p, a.bottom); ctx.lineTo(p, a.bottom - L);
      ctx.moveTo(p, a.top); ctx.lineTo(p, a.top + L);
    });
    y.ticks.forEach(tk => {
      const p = Math.round(y.getPixelForValue(tk.value) - 0.5) + 0.5;
      ctx.moveTo(a.left, p); ctx.lineTo(a.left + L, p);
      ctx.moveTo(a.right, p); ctx.lineTo(a.right - L, p);
    });
    ctx.stroke();
    ctx.strokeRect(a.left - 0.5, a.top - 0.5, a.right - a.left + 1, a.bottom - a.top + 1);
    ctx.restore();
    if (opts && opts.loc) drawLegend(chart, opts);
  }
};
Chart.register(framePlugin);

const fig = document.getElementById('fig');

function makeChart(r, c) {
  const spec = grid[r][c];
  const yw = c === 0 ? 43 : 34;
  const topH = r === 0 ? 28 : 8;
  const xh = r === 3 ? 34 : 18;
  const cw = yw + PW + 12;
  const ch = topH + PH[r] + xh;
  const cv = document.createElement('canvas');
  cv.width = cw; cv.height = ch;
  cv.style.left = (PL[c] - yw) + 'px';
  cv.style.top = (PT[r] - topH) + 'px';
  cv.style.width = cw + 'px';
  cv.style.height = ch + 'px';
  fig.appendChild(cv);
  const names = rowNames[r];
  const n = spec.s.length;
  const datasets = spec.s.map((s, i) => ({
    label: names[i],
    data: pts(s[0], s[1]),
    borderColor: COLORS[i],
    backgroundColor: COLORS[i],
    borderWidth: 1.9,
    borderJoinStyle: 'round',
    pointRadius: 0,
    tension: 0,
    fill: false,
    order: n - i
  }));
  const tickFont = {family: FONT, size: 11};
  new Chart(cv, {
    type: 'line',
    data: {datasets},
    options: {
      responsive: false,
      maintainAspectRatio: false,
      animation: false,
      devicePixelRatio: 1,
      events: [],
      layout: {padding: {top: r === 0 ? 0 : 8, right: 12, bottom: 0, left: 0}},
      plugins: {
        legend: {display: false},
        tooltip: {enabled: false},
        title: {
          display: r === 0, text: methods[c], fullSize: false, color: INK,
          font: {family: FONT, size: 14, weight: 'normal'},
          padding: {top: 3, bottom: 8.2}
        },
        mplFrame: {
          loc: r < 2 ? 'lower' : 'upper',
          mr: (c === 0 && r < 3) ? 1 : 5.5,
          extra: (c === 0 && r < 3) ? 4 : 0
        }
      },
      scales: {
        x: {
          type: 'linear', min: 0, max: 25,
          afterBuildTicks: s => { s.ticks = xTicks.map(v => ({value: v})); },
          afterFit: s => { s.height = xh; },
          ticks: {callback: v => String(v), color: INK, font: tickFont, padding: 3, maxRotation: 0, autoSkip: false},
          grid: {color: GRID, lineWidth: 1, drawTicks: false},
          border: {display: false, dash: [1.5, 1.5]},
          title: {display: r === 3, text: xTitle, color: INK, font: {family: FONT, size: 12}, padding: {top: 0, bottom: 4}}
        },
        y: {
          type: 'linear', min: spec.range[0], max: spec.range[1],
          afterBuildTicks: s => { s.ticks = spec.ticks.map(v => ({value: v})); },
          afterFit: s => { s.width = yw; },
          ticks: {
            callback: v => { const k = spec.ticks.indexOf(v); return k >= 0 ? spec.labels[k] : ''; },
            color: INK, font: tickFont, padding: 3, autoSkip: false
          },
          grid: {color: GRID, lineWidth: 1, drawTicks: false},
          border: {display: false, dash: [1.5, 1.5]},
          title: {display: c === 0, text: rowTitles[r], color: INK, font: {family: FONT, size: 12}, padding: {top: 5, bottom: 0}}
        }
      }
    }
  });
}

for (let r = 0; r < 4; r++) {
  for (let c = 0; c < 6; c++) makeChart(r, c);
}
</script>
</body>
</html>
